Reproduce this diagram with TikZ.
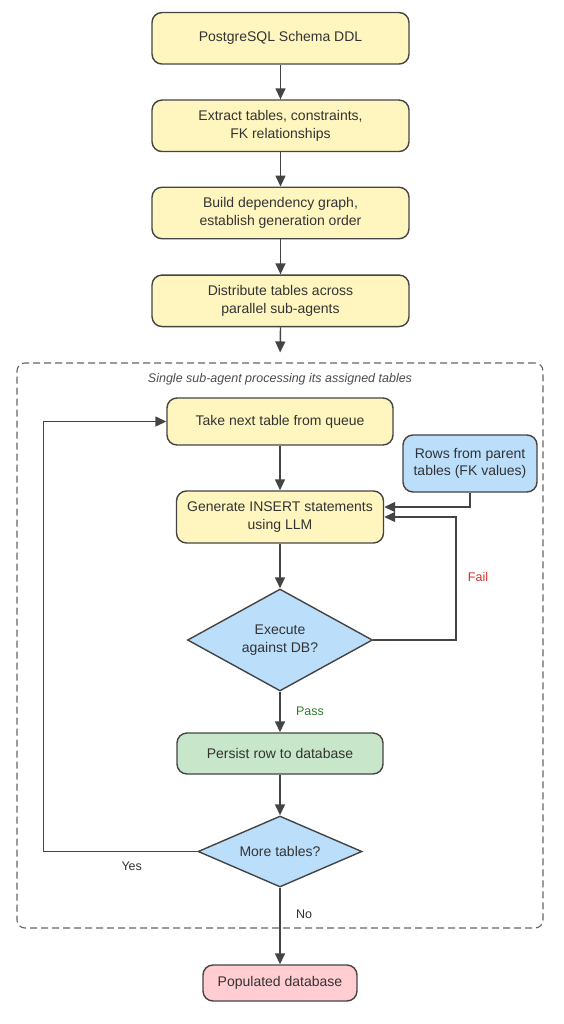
\documentclass[tikz,border=0pt]{standalone}
\usepackage{fontspec}
\setmainfont{Liberation Sans}
\usetikzlibrary{arrows.meta,shapes.geometric}
\definecolor{ylw}{HTML}{FFF6BF}
\definecolor{blu}{HTML}{BBDEFB}
\definecolor{grn}{HTML}{C8E6C9}
\definecolor{pnk}{HTML}{FFCDD2}
\definecolor{edge}{HTML}{444444}
\definecolor{txt}{HTML}{333333}
\definecolor{failc}{HTML}{D32F2F}
\definecolor{passc}{HTML}{2E7D32}
\tikzset{
  box/.style={draw=edge, line width=1.4pt, rounded corners=10pt, align=center,
    text=txt, font=\fontsize{14}{17.5}\selectfont, inner sep=2pt},
  ybox/.style={box, fill=ylw},
  dec/.style={diamond, draw=edge, line width=1.4pt, fill=blu, align=center,
    text=txt, font=\fontsize{14}{17.5}\selectfont, inner sep=0pt},
  conn/.style={draw=edge, line width=1.4pt, -{Triangle[length=11pt,width=10pt]}},
  lbl/.style={font=\fontsize{12.5}{14}\selectfont, text=txt},
  grpbox/.style={draw=black!60, line width=1.1pt, dash pattern=on 7pt off 4pt, rounded corners=8pt}
}
\begin{document}
\begin{tikzpicture}[x=1pt,y=-1pt]
\useasboundingbox (0,0) rectangle (564,1024);
% group
\node[grpbox, minimum width=526pt, minimum height=565pt] (grp) at (280,645.5) {};
\node[font=\itshape\fontsize{12.5}{14}\selectfont, text=black!70] (grplbl) at (280,379) {Single sub-agent processing its assigned tables};
% main chain
\node[ybox, minimum width=257pt, minimum height=51.5pt] (b1) at (280.5,38.3) {PostgreSQL Schema DDL};
\node[ybox, minimum width=257pt, minimum height=51.5pt] (b2) at (280.5,125.8) {Extract tables, constraints,\\FK relationships};
\node[ybox, minimum width=257pt, minimum height=51.5pt] (b3) at (280.5,213) {Build dependency graph,\\establish generation order};
\node[ybox, minimum width=257pt, minimum height=51.5pt] (b4) at (280.5,300.8) {Distribute tables across\\parallel sub-agents};
\node[ybox, minimum width=226pt, minimum height=47pt] (take) at (280,421.5) {Take next table from queue};
\node[box, fill=blu, minimum width=134pt, minimum height=57pt] (rows) at (470,463.5) {Rows from parent\\tables (FK values)};
\node[ybox, minimum width=207pt, minimum height=52pt] (gen) at (280,517) {Generate INSERT statements\\using LLM};
\node[dec, minimum width=185pt, minimum height=102pt, aspect=1.8] (exec) at (280,640) {Execute\\against DB?};
\node[box, fill=grn, minimum width=206pt, minimum height=41pt] (pers) at (280,753.5) {Persist row to database};
\node[dec, minimum width=164pt, minimum height=71pt, aspect=2.3] (more) at (280,851.5) {More tables?};
\node[box, fill=pnk, minimum width=154pt, minimum height=36pt] (pop) at (280,983) {Populated database};
% connectors
\draw[conn] (b1) -- (b2);
\draw[conn] (b2) -- (b3);
\draw[conn] (b3) -- (b4);
\draw[conn, shorten >=10pt] (b4.south) -- (grp.north);
\draw[conn] (take) -- (gen);
\draw[conn] (rows.south) |- ([yshift=10pt]gen.east);
\coordinate (failx) at (456,640);
\draw[conn] (exec.east) -- (failx) |- (gen.east);
\node[lbl, text=failc] (fail) at (478,577) {Fail};
\draw[conn] (gen) -- (exec);
\draw[conn] (exec) -- (pers);
\node[lbl, text=passc] (pass) at (310,711.5) {Pass};
\draw[conn] (pers) -- (more);
\coordinate (loopx) at (43.3,851.5);
\draw[conn] (more.west) -- (loopx) |- (take.west);
\node[lbl] (yes) at (131.7,866.7) {Yes};
\draw[conn] (more) -- (pop);
\node[lbl] (no) at (304,914) {No};
\end{tikzpicture}
\end{document}
